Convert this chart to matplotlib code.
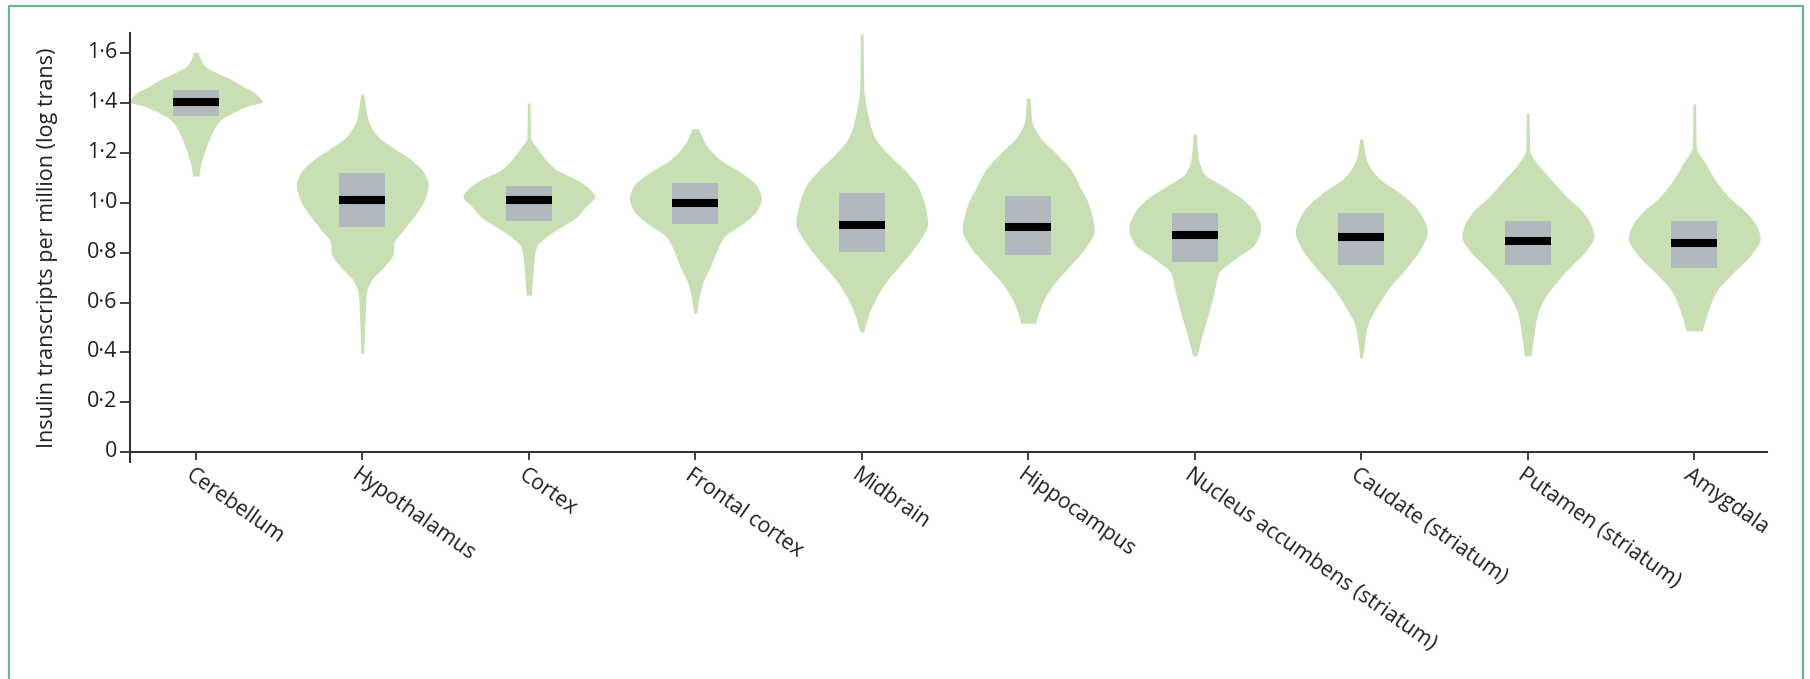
import numpy as np
import matplotlib
matplotlib.use("Agg")
import matplotlib.pyplot as plt
from matplotlib.lines import Line2D
from matplotlib.transforms import ScaledTranslation

# ---------------- data ----------------
regions = ["Cerebellum", "Hypothalamus", "Cortex", "Frontal cortex", "Midbrain",
           "Hippocampus", "Nucleus accumbens (striatum)", "Caudate (striatum)",
           "Putamen (striatum)", "Amygdala"]

# violin outlines: y levels (log TPM) and relative density (0-1) at those levels
cerebellum_y = [1.603, 1.552, 1.519, 1.499, 1.465, 1.439, 1.405, 1.385, 1.358, 1.332, 1.292, 1.238, 1.185, 1.131, 1.107]
cerebellum_d = [0.03, 0.12, 0.33, 0.50, 0.72, 0.90, 1.0, 0.76, 0.54, 0.38, 0.27, 0.18, 0.11, 0.06, 0.05]
hypothalamus_y = [1.436, 1.332, 1.265, 1.225, 1.172, 1.118, 1.071, 1.011, 0.958, 0.89, 0.838, 0.798, 0.744, 0.69, 0.637, 0.53, 0.397]
hypothalamus_d = [0.02, 0.09, 0.24, 0.44, 0.74, 0.94, 1.0, 0.94, 0.82, 0.62, 0.48, 0.47, 0.33, 0.14, 0.06, 0.04, 0.02]
cortex_y = [1.399, 1.258, 1.225, 1.172, 1.132, 1.092, 1.058, 1.025, 0.984, 0.944, 0.904, 0.864, 0.824, 0.771, 0.704, 0.630]
cortex_d = [0.02, 0.03, 0.11, 0.26, 0.42, 0.73, 0.91, 1.0, 0.86, 0.73, 0.5, 0.27, 0.12, 0.08, 0.06, 0.04]
frontal_y = [1.296, 1.238, 1.172, 1.118, 1.065, 1.018, 0.971, 0.918, 0.864, 0.811, 0.744, 0.677, 0.61, 0.557]
frontal_d = [0.05, 0.15, 0.38, 0.71, 0.94, 1.0, 0.94, 0.73, 0.44, 0.33, 0.23, 0.11, 0.05, 0.02]
midbrain_y = [1.677, 1.465, 1.332, 1.265, 1.198, 1.131, 1.065, 0.984, 0.918, 0.851, 0.771, 0.69, 0.624, 0.557, 0.483]
midbrain_d = [0.02, 0.03, 0.11, 0.19, 0.39, 0.65, 0.85, 0.96, 1.0, 0.88, 0.65, 0.39, 0.23, 0.11, 0.03]
hippocampus_y = [1.419, 1.332, 1.265, 1.198, 1.131, 1.065, 0.984, 0.891, 0.824, 0.744, 0.664, 0.597, 0.517]
hippocampus_d = [0.03, 0.05, 0.17, 0.42, 0.65, 0.78, 0.93, 1.0, 0.88, 0.62, 0.36, 0.21, 0.11]
nucleus_y = [1.276, 1.172, 1.118, 1.065, 1.011, 0.958, 0.898, 0.838, 0.771, 0.717, 0.637, 0.557, 0.477, 0.386]
nucleus_d = [0.02, 0.06, 0.14, 0.44, 0.74, 0.92, 1.0, 0.92, 0.59, 0.36, 0.29, 0.21, 0.12, 0.03]
caudate_y = [1.256, 1.172, 1.105, 1.038, 0.984, 0.931, 0.884, 0.824, 0.744, 0.664, 0.584, 0.503, 0.377]
caudate_d = [0.02, 0.08, 0.24, 0.59, 0.82, 0.95, 1.0, 0.92, 0.7, 0.44, 0.24, 0.09, 0.02]
putamen_y = [1.359, 1.212, 1.158, 1.091, 1.024, 0.958, 0.904, 0.864, 0.811, 0.744, 0.677, 0.61, 0.543, 0.463, 0.386]
putamen_d = [0.02, 0.03, 0.14, 0.36, 0.59, 0.85, 0.97, 1.0, 0.89, 0.65, 0.42, 0.24, 0.14, 0.09, 0.05]
amygdala_y = [1.396, 1.225, 1.158, 1.091, 1.024, 0.958, 0.904, 0.858, 0.798, 0.717, 0.637, 0.557, 0.487]
amygdala_d = [0.02, 0.03, 0.17, 0.32, 0.52, 0.8, 0.95, 1.0, 0.88, 0.58, 0.32, 0.2, 0.12]

q1 = [1.348, 0.902, 0.928, 0.915, 0.804, 0.791, 0.764, 0.751, 0.751, 0.737]
q3 = [1.452, 1.118, 1.065, 1.078, 1.039, 1.027, 0.960, 0.960, 0.928, 0.928]
medians = [1.404, 1.011, 1.010, 0.998, 0.912, 0.902, 0.871, 0.864, 0.847, 0.839]

yticks = [0, 0.2, 0.4, 0.6, 0.8, 1.0, 1.2, 1.4, 1.6]
ylabel = "Insulin transcripts per million (log trans)"

profiles = [(cerebellum_y, cerebellum_d), (hypothalamus_y, hypothalamus_d),
            (cortex_y, cortex_d), (frontal_y, frontal_d), (midbrain_y, midbrain_d),
            (hippocampus_y, hippocampus_d), (nucleus_y, nucleus_d),
            (caudate_y, caudate_d), (putamen_y, putamen_d), (amygdala_y, amygdala_d)]

# ---------------- style ----------------
VIOLIN_COLOR = "#c8dfb4"
BOX_COLOR = "#b1b8be"
TEXT_COLOR = "#231f20"
AXIS_COLOR = "#333333"
BORDER_COLOR = "#6db38e"
HALF_WIDTH = 0.396
BOX_HALF = 0.137
FONT = ["Open Sans", "DejaVu Sans"]

plt.rcParams["font.family"] = FONT


def pchip(x, y, xn):
    """Shape-preserving cubic through the read points (for a smooth outline)."""
    x = np.asarray(x, float)
    y = np.asarray(y, float)
    h = np.diff(x)
    delta = np.diff(y) / h
    m = np.zeros_like(y)
    for k in range(1, len(x) - 1):
        if delta[k - 1] * delta[k] > 0:
            w1 = 2 * h[k] + h[k - 1]
            w2 = h[k] + 2 * h[k - 1]
            m[k] = (w1 + w2) / (w1 / delta[k - 1] + w2 / delta[k])
    m[0] = delta[0]
    m[-1] = delta[-1]
    idx = np.clip(np.searchsorted(x, xn) - 1, 0, len(x) - 2)
    t = (xn - x[idx]) / h[idx]
    h00 = 2 * t**3 - 3 * t**2 + 1
    h10 = t**3 - 2 * t**2 + t
    h01 = -2 * t**3 + 3 * t**2
    h11 = t**3 - t**2
    return (h00 * y[idx] + h10 * h[idx] * m[idx] + h01 * y[idx + 1]
            + h11 * h[idx] * m[idx + 1])


fig = plt.figure(figsize=(18.10, 6.79), dpi=100)
ax = fig.add_axes([130 / 1810, 1 - 462.3 / 679, (1767 - 130) / 1810, (462.3 - 33) / 679])

for i, (yy, dd) in enumerate(profiles):
    yy = np.asarray(yy)[::-1]
    dd = np.asarray(dd)[::-1]
    ys = np.linspace(yy[0], yy[-1], 400)
    ds = np.clip(pchip(yy, dd, ys), 0.0, None)
    ax.fill_betweenx(ys, i - ds * HALF_WIDTH, i + ds * HALF_WIDTH,
                     color=VIOLIN_COLOR, linewidth=0, zorder=2)
    ax.bar(i, q3[i] - q1[i], bottom=q1[i], width=2 * BOX_HALF,
           color=BOX_COLOR, linewidth=0, zorder=3)
    ax.plot([i - BOX_HALF, i + BOX_HALF], [medians[i], medians[i]],
            color="black", linewidth=5.8, solid_capstyle="butt", zorder=4)

ax.set_xlim(-0.395, 9.437)
ax.set_ylim(-0.04, 1.68)

for s in ["top", "right"]:
    ax.spines[s].set_visible(False)
ax.spines["bottom"].set_position(("data", 0))
for s in ["left", "bottom"]:
    ax.spines[s].set_color(AXIS_COLOR)
    ax.spines[s].set_linewidth(1.5)

ax.set_yticks(yticks)
ax.set_yticklabels([("0" if v == 0 else f"{v:.1f}".replace(".", "\u00b7")) for v in yticks])
ax.tick_params(axis="y", direction="out", length=7.2, width=1.3, color=AXIS_COLOR,
               pad=2, labelsize=15.5, labelcolor=TEXT_COLOR)
ax.set_xticks(range(len(regions)))
ax.set_xticklabels(regions, rotation=-35, ha="left", va="top", rotation_mode="anchor")
ax.tick_params(axis="x", direction="out", length=6, width=1.3, color=AXIS_COLOR,
               pad=3, labelsize=15.3, labelcolor=TEXT_COLOR)
for lab in ax.get_yticklabels():
    lab.set_transform(lab.get_transform() + ScaledTranslation(0, 0.03, fig.dpi_scale_trans))
for lab in ax.get_xticklabels():
    lab.set_transform(lab.get_transform() + ScaledTranslation(-0.02, 0, fig.dpi_scale_trans))

fig.text(48 / 1810, 1 - 248 / 679, ylabel, rotation=90, ha="center", va="center",
         fontsize=15.5, color=TEXT_COLOR)

# panel frame (open at the bottom)
W, H = 1810, 679
frame_x = [9 / W, 9 / W, 1803 / W, 1803 / W]
frame_y = [0, 1 - 6 / H, 1 - 6 / H, 0]
fig.add_artist(Line2D(frame_x, frame_y, transform=fig.transFigure,
                      color=BORDER_COLOR, linewidth=1.6))

fig.savefig("out.png", dpi=100, facecolor="white")
